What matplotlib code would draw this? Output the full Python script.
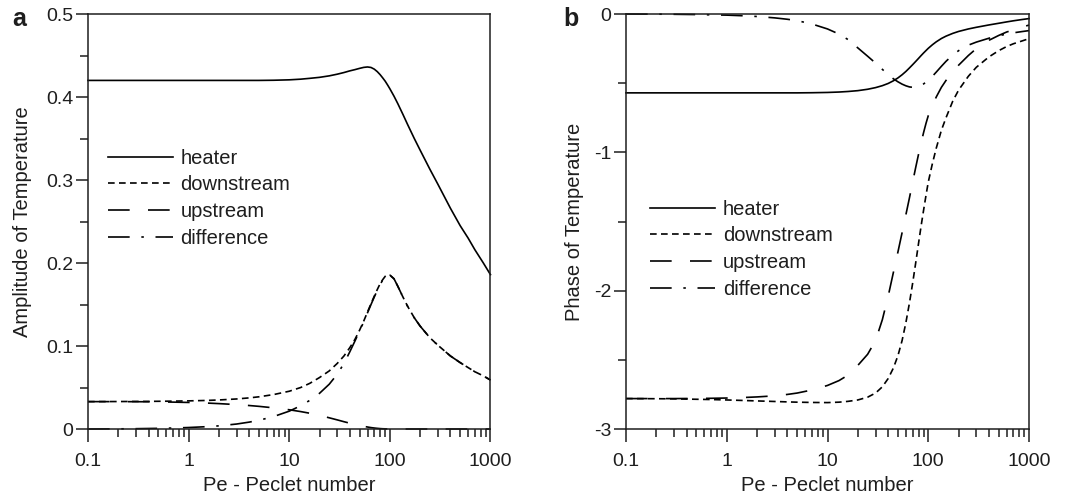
import numpy as np
import matplotlib
matplotlib.use("Agg")
import matplotlib.pyplot as plt
from matplotlib.ticker import LogLocator, MultipleLocator, FixedLocator, FixedFormatter, NullFormatter

# ---------------- data ----------------
pe = [0.1, 0.2, 0.3, 0.5, 0.7,
      1, 1.5, 2, 3, 4,
      5, 7, 10, 13, 16,
      20, 25, 30, 35, 40,
      45, 50, 55, 60, 65,
      70, 75, 80, 85, 90,
      95, 100, 110, 120, 135,
      150, 175, 200, 250, 300,
      400, 500, 600, 700, 850,
      1000]

amp_heater = [0.420, 0.420, 0.420, 0.420, 0.420,
              0.420, 0.420, 0.420, 0.420, 0.420,
              0.420, 0.4202, 0.4207, 0.4215, 0.4225,
              0.4237, 0.4255, 0.4275, 0.4295, 0.4315,
              0.4330, 0.4345, 0.4357, 0.4362, 0.4356,
              0.4336, 0.4306, 0.4270, 0.4230, 0.4190,
              0.4145, 0.4100, 0.4010, 0.3920, 0.3790,
              0.3670, 0.3500, 0.3360, 0.3130, 0.2950,
              0.2660, 0.2450, 0.2300, 0.2160, 0.2000,
              0.1860]
amp_down = [0.0330, 0.0331, 0.0332, 0.0334, 0.0336,
            0.0339, 0.0344, 0.0350, 0.0362, 0.0375,
            0.0388, 0.0415, 0.0455, 0.0500, 0.0550,
            0.0620, 0.0700, 0.0790, 0.0880, 0.0980,
            0.1080, 0.1190, 0.1300, 0.1410, 0.1510,
            0.1600, 0.1680, 0.1750, 0.1800, 0.1840,
            0.1860, 0.1855, 0.1810, 0.1720, 0.1590,
            0.1480, 0.1340, 0.1240, 0.1100, 0.1010,
            0.0880, 0.0800, 0.0740, 0.0690, 0.0640,
            0.0590]
amp_up = [0.0330, 0.0330, 0.0329, 0.0327, 0.0324,
          0.0320, 0.0313, 0.0306, 0.0294, 0.0283,
          0.0273, 0.0255, 0.0232, 0.0210, 0.0190,
          0.0165, 0.0135, 0.0110, 0.0088, 0.0070,
          0.0055, 0.0042, 0.0032, 0.0024, 0.0017,
          0.0012, 0.0008, 0.0005, 0.0003, 0.0002,
          0.0001, 0.0, 0.0, 0.0, 0.0,
          0.0, 0.0, 0.0, 0.0, 0.0,
          0.0, 0.0, 0.0, 0.0, 0.0,
          0.0]
amp_diff = [0.0000, 0.0002, 0.0004, 0.0008, 0.0012,
            0.0018, 0.0028, 0.0038, 0.0060, 0.0083,
            0.0105, 0.0150, 0.0215, 0.0280, 0.0345,
            0.0430, 0.0540, 0.0660, 0.0790, 0.0930,
            0.1060, 0.1180, 0.1290, 0.1400, 0.1500,
            0.1590, 0.1670, 0.1740, 0.1795, 0.1835,
            0.1860, 0.1855, 0.1810, 0.1720, 0.1590,
            0.1480, 0.1340, 0.1240, 0.1100, 0.1010,
            0.0880, 0.0800, 0.0740, 0.0690, 0.0640,
            0.0590]

ph_heater = [-0.570, -0.570, -0.570, -0.570, -0.570,
             -0.570, -0.570, -0.570, -0.570, -0.570,
             -0.570, -0.569, -0.567, -0.564, -0.560,
             -0.554, -0.544, -0.532, -0.518, -0.502,
             -0.483, -0.462, -0.439, -0.415, -0.390,
             -0.366, -0.343, -0.321, -0.300, -0.281,
             -0.264, -0.248, -0.222, -0.201, -0.177,
             -0.160, -0.140, -0.126, -0.108, -0.096,
             -0.079, -0.067, -0.057, -0.049, -0.040,
             -0.033]
ph_down = [-2.780, -2.781, -2.782, -2.785, -2.787,
           -2.790, -2.794, -2.797, -2.801, -2.804,
           -2.806, -2.808, -2.809, -2.806, -2.800,
           -2.790, -2.770, -2.740, -2.695, -2.635,
           -2.560, -2.470, -2.360, -2.230, -2.090,
           -1.945, -1.800, -1.660, -1.530, -1.415,
           -1.310, -1.215, -1.080, -0.970, -0.840,
           -0.750, -0.630, -0.550, -0.450, -0.385,
           -0.310, -0.265, -0.235, -0.215, -0.195,
           -0.178]
ph_up = [-2.780, -2.780, -2.780, -2.779, -2.778,
         -2.776, -2.772, -2.768, -2.760, -2.750,
         -2.740, -2.718, -2.685, -2.650, -2.610,
         -2.540, -2.460, -2.360, -2.210, -2.040,
         -1.870, -1.720, -1.580, -1.450, -1.330,
         -1.215, -1.110, -1.015, -0.930, -0.855,
         -0.790, -0.735, -0.660, -0.600, -0.530,
         -0.480, -0.420, -0.370, -0.300, -0.250,
         -0.190, -0.155, -0.130, -0.115, -0.095,
         -0.080]
ph_diff = [0.000, -0.001, -0.002, -0.004, -0.006,
           -0.008, -0.013, -0.018, -0.028, -0.038,
           -0.048, -0.072, -0.108, -0.145, -0.185,
           -0.245, -0.305, -0.355, -0.400, -0.438,
           -0.468, -0.490, -0.507, -0.519, -0.527,
           -0.530, -0.529, -0.524, -0.516, -0.505,
           -0.492, -0.478, -0.450, -0.420, -0.378,
           -0.342, -0.296, -0.265, -0.225, -0.203,
           -0.175, -0.157, -0.145, -0.136, -0.127,
           -0.120]

series_labels = ["heater", "downstream", "upstream", "difference"]
xtick_vals = [0.1, 1, 10, 100, 1000]
xtick_labels = ["0.1", "1", "10", "100", "1000"]
ytick_a = [0, 0.1, 0.2, 0.3, 0.4, 0.5]
ytick_a_labels = ["0", "0.1", "0.2", "0.3", "0.4", "0.5"]
ytick_b = [-3, -2, -1, 0]
ytick_b_labels = ["-3", "-2", "-1", "0"]

# ---------------- style ----------------
plt.rcParams['font.family'] = ['Liberation Sans', 'DejaVu Sans']
TXT = '#1e1e1e'
styles = [
    dict(linestyle='-'),
    dict(linestyle=(0, (4, 2.6))),
    dict(linestyle=(0, (13, 11))),
    dict(linestyle=(0, (13, 7, 1.5, 7))),
]
LW = 1.2
FS_TICK = 14
FS_LAB = 14.5
FS_LEG = 14.5

fig = plt.figure(figsize=(10.69, 4.97), dpi=100)
axa = fig.add_axes([0.0823, 0.1368, 0.3765, 0.835])
axb = fig.add_axes([0.5856, 0.1368, 0.3770, 0.835])


def style_axis(ax, yt, ytl, ymin, ymax, yminor):
    ax.set_xscale('log')
    ax.set_xlim(0.1, 1000)
    ax.set_ylim(ymin, ymax)
    ax.xaxis.set_major_locator(FixedLocator(xtick_vals))
    ax.xaxis.set_major_formatter(FixedFormatter(xtick_labels))
    ax.xaxis.set_minor_locator(LogLocator(base=10, subs=np.arange(2, 10)))
    ax.xaxis.set_minor_formatter(NullFormatter())
    ax.yaxis.set_major_locator(FixedLocator(yt))
    ax.yaxis.set_major_formatter(FixedFormatter(ytl))
    ax.yaxis.set_minor_locator(MultipleLocator(yminor))
    ax.tick_params(which='both', direction='out', top=False, right=False,
                   colors=TXT, width=1.1, labelsize=FS_TICK)
    ax.tick_params(which='major', length=9)
    ax.tick_params(which='minor', length=5.5)
    ax.tick_params(axis='x', which='major', pad=8.5)
    ax.tick_params(axis='y', which='major', pad=1.5)
    for s in ax.spines.values():
        s.set_linewidth(1.1)
        s.set_color(TXT)
    ax.set_xlabel('Pe - Peclet number', fontsize=FS_LAB, color=TXT, labelpad=4)


leg_kw = dict(loc='upper left', frameon=False, fontsize=FS_LEG, handlelength=3.2,
              handletextpad=0.4, labelspacing=0.38, borderaxespad=0, labelcolor=TXT)

# panel a
for y, lab, st in zip([amp_heater, amp_down, amp_up, amp_diff], series_labels, styles):
    axa.plot(pe, y, color='black', lw=LW, label=lab, clip_on=False, **st)
style_axis(axa, ytick_a, ytick_a_labels, 0, 0.5, 0.05)
axa.set_ylabel('Amplitude of Temperature', fontsize=FS_LAB, color=TXT, labelpad=10)
axa.legend(bbox_to_anchor=(0.03, 0.695), **leg_kw)

# panel b
for y, lab, st in zip([ph_heater, ph_down, ph_up, ph_diff], series_labels, styles):
    axb.plot(pe, y, color='black', lw=LW, label=lab, clip_on=False, **st)
style_axis(axb, ytick_b, ytick_b_labels, -3, 0, 0.5)
axb.set_ylabel('Phase of Temperature', fontsize=FS_LAB, color=TXT, labelpad=7)
axb.legend(bbox_to_anchor=(0.04, 0.572), **leg_kw)

fig.text(0.011, 0.962, 'a', fontsize=18, fontweight='bold', color=TXT, va='center')
fig.text(0.527, 0.962, 'b', fontsize=18, fontweight='bold', color=TXT, va='center')

fig.savefig('out.png', dpi=100)
